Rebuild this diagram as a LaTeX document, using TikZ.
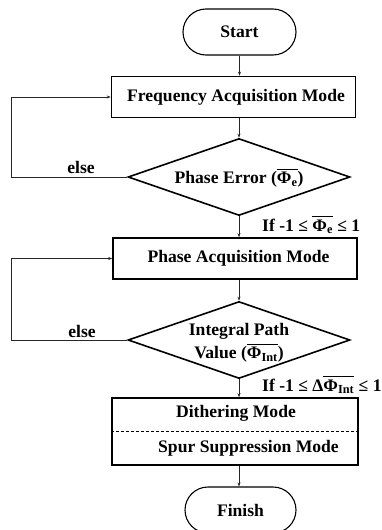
\documentclass[tikz,border=0pt]{standalone}
\usepackage{fontspec}
\setmainfont{Liberation Serif}
\usetikzlibrary{arrows.meta,shapes.geometric,shapes.misc}
% bar over a group of glyphs (mean value)
\newcommand\ovbar[1]{\leavevmode\vbox{\hrule height 1.2pt\kern 2pt\hbox{#1}}}
\begin{document}
\begin{tikzpicture}[x=1pt,y=-1pt,
  font=\bfseries\fontsize{17.6}{23}\selectfont,
  term/.style={draw,line width=1.1pt,rounded rectangle,minimum width=113pt,minimum height=46pt,inner sep=0pt},
  modebox/.style={draw,line width=1.6pt,minimum width=244pt,minimum height=41pt,inner sep=0pt},
  decision/.style={draw,line width=1.6pt,diamond,shape aspect=2.88,minimum width=222pt,minimum height=77pt,inner sep=0pt,align=center},
  conn/.style={line width=0.6pt,draw=black!85,-{Stealth[length=4pt,width=3pt]}},
  loop/.style={line width=0.6pt,draw=black!85,-{Stealth[length=4pt,width=3pt]}},
  lbl/.style={inner sep=0pt}]
\useasboundingbox (0,0) rectangle (382,530);

% main column
\node[term] (start) at (239.5,32) {Start};
\node[modebox] (fam) at (233.5,97) {\hspace*{5pt}Frequency Acquisition Mode};
\node[decision] (d1) at (239,177) {};
\node[lbl] (d1t) at (239,178) {Phase Error (\ovbar{Φ\textsubscript{e}})};
\node[modebox] (pam) at (235,258.5) {\hspace*{7pt}Phase Acquisition Mode};
\node[decision] (d2) at (239,340) {};
\node[lbl,align=center] (d2t) at (239,343) {Integral Path\\Value (\ovbar{Φ\textsubscript{Int}})};
\node[draw,line width=1.6pt,minimum width=246pt,minimum height=67pt,inner sep=0pt] (dith) at (235,431.5) {};
\node[lbl] (dm) at (236,413) {Dithering Mode};
\node[lbl] (sm) at (248.5,448) {Spur Suppression Mode};
\node[term,minimum width=111pt] (fin) at (240.5,510) {Finish};

% split between the two last modes
\draw[line width=1.1pt,dash pattern=on 3pt off 2pt] (dith.west) -- (dith.east);

% flow
\draw[conn] (start.south) -- (start.south |- fam.north);
\draw[conn] (d1.north |- fam.south) -- (d1.north);
\draw[conn] (d1.south) -- (d1.south |- pam.north);
\draw[conn] (d2.north |- pam.south) -- (d2.north);
\draw[conn] (d2.south) -- (d2.south |- dith.north);
\draw[conn] (d2.south |- dith.south) -- (d2.south |- fin.north);

% retry loops
\draw[loop] (d1.west) -- ++(-116,0) |- (fam.west);
\draw[loop] (d2.west) -- ++(-116,0) |- (pam.west);

% branch labels
\node[lbl] (e1) at (81,167) {else};
\node[lbl] (e2) at (82,331) {else};
\node[lbl,anchor=west] (c1) at (262,225) {If -1 ≤ \ovbar{Φ\textsubscript{e}} ≤ 1};
\node[lbl,anchor=west] (c2) at (262,385) {If -1 ≤ Δ\ovbar{Φ\textsubscript{Int}} ≤ 1};
\end{tikzpicture}
\end{document}
